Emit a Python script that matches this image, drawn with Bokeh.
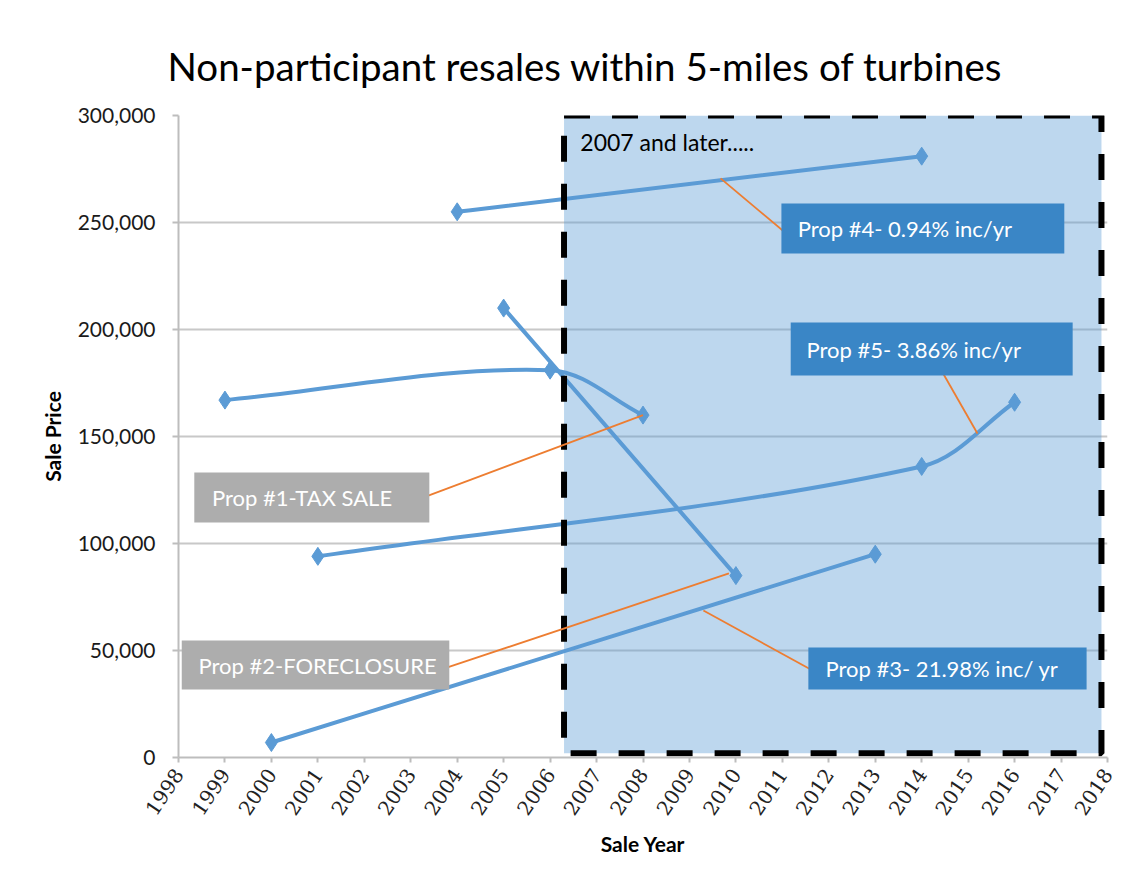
import math
from bokeh.plotting import figure
from bokeh.models import (NumeralTickFormatter, FixedTicker, BoxAnnotation, Label, Range1d)
from bokeh.embed import file_html
from bokeh.resources import INLINE

# ---------------- data ----------------
TITLE = "Non-participant resales within 5-miles of turbines"
X_LABEL = "Sale Year"
Y_LABEL = "Sale Price"
YEARS = list(range(1998, 2019))
Y_TICKS = [0, 50000, 100000, 150000, 200000, 250000, 300000]

prop1_year = [1999, 2006, 2008]
prop1_price = [167000, 181000, 160000]
prop2_year = [2005, 2010]
prop2_price = [210000, 85000]
prop3_year = [2000, 2013]
prop3_price = [7000, 95000]
prop4_year = [2004, 2014]
prop4_price = [255000, 281000]
prop5_year = [2001, 2014, 2016]
prop5_price = [94000, 136000, 166000]

SERIES = [(prop1_year, prop1_price), (prop2_year, prop2_price), (prop3_year, prop3_price),
          (prop4_year, prop4_price), (prop5_year, prop5_price)]

LABEL1 = "Prop #1-TAX SALE"
LABEL2 = "Prop #2-FORECLOSURE"
LABEL3 = "Prop #3- 21.98% inc/ yr"
LABEL4 = "Prop #4- 0.94% inc/yr"
LABEL5 = "Prop #5- 3.86% inc/yr"
PERIOD_NOTE = "2007 and later....."

# shaded "2007 and later" region (data units)
SHADE_X0, SHADE_X1 = 2006.3, 2017.87
SHADE_Y0, SHADE_Y1 = 2000, 300000

# ---------------- style ----------------
LINE_BLUE = "#5B9BD5"
BOX_BLUE = "#3A86C6"
BOX_GREY = "#ADADAD"
LEADER = "#ED7D31"
FONT = "Lato"
X_MIN, X_MAX, Y_MIN, Y_MAX = 1998, 2018, 0, 300000
FRAME_W, FRAME_H = 929, 642   # px, used only to shape the smoothing like the screen


def smooth(xs, ys):
    """Excel-like smoothed line: cubic Bezier pieces through the points,
    tangents along the neighbouring chord, handle length = segment length / 3."""
    sx = FRAME_W / (X_MAX - X_MIN)
    sy = FRAME_H / (Y_MAX - Y_MIN)
    pts = [(x * sx, y * sy) for x, y in zip(xs, ys)]
    n = len(pts)

    def unit(a, b):
        dx, dy = b[0] - a[0], b[1] - a[1]
        L = math.hypot(dx, dy)
        return (dx / L, dy / L)

    tangents = []
    for i in range(n):
        a = pts[max(i - 1, 0)]
        b = pts[min(i + 1, n - 1)]
        tangents.append(unit(a, b))
    d = dict(x0=[], y0=[], x1=[], y1=[], cx0=[], cy0=[], cx1=[], cy1=[])
    for i in range(n - 1):
        a, b = pts[i], pts[i + 1]
        L = math.hypot(b[0] - a[0], b[1] - a[1]) / 3.0
        ta, tb = tangents[i], tangents[i + 1]
        d["x0"].append(xs[i]); d["y0"].append(ys[i])
        d["x1"].append(xs[i + 1]); d["y1"].append(ys[i + 1])
        d["cx0"].append((a[0] + ta[0] * L) / sx)
        d["cy0"].append((a[1] + ta[1] * L) / sy)
        d["cx1"].append((b[0] - tb[0] * L) / sx)
        d["cy1"].append((b[1] - tb[1] * L) / sy)
    return d


p = figure(width=1130, height=870, x_range=Range1d(X_MIN, X_MAX), y_range=Range1d(Y_MIN, Y_MAX),
           output_backend="svg", toolbar_location=None,
           min_border_left=178, min_border_right=23, min_border_top=115, min_border_bottom=113)
p.outline_line_color = None
p.background_fill_color = "white"
p.border_fill_color = "white"

# title
p.title.text = TITLE
p.title.text_font = FONT
p.title.text_font_size = "38.5px"
p.title.text_font_style = "normal"
p.title.text_color = "black"
p.title.align = "left"
p.title.offset = -11
p.title.standoff = 54

# grid
p.xgrid.grid_line_color = None
p.ygrid.ticker = FixedTicker(ticks=Y_TICKS)
p.ygrid.grid_line_color = "#C8C8C8"
p.ygrid.grid_line_width = 2

# axes
p.yaxis.ticker = FixedTicker(ticks=Y_TICKS)
p.yaxis.formatter = NumeralTickFormatter(format="0,0")
p.yaxis.axis_label = Y_LABEL
p.xaxis.ticker = FixedTicker(ticks=YEARS)
p.xaxis.axis_label = X_LABEL
p.xaxis.major_label_orientation = math.radians(56)
for ax in (p.xaxis, p.yaxis):
    ax.axis_line_color = "#BDBDBD"
    ax.axis_line_width = 2
    ax.major_tick_line_color = "#BDBDBD"
    ax.major_tick_line_width = 2
    ax.major_tick_in = 0
    ax.minor_tick_line_color = None
    ax.axis_label_text_font = FONT
    ax.axis_label_text_font_style = "bold"
    ax.axis_label_text_font_size = "21px"
    ax.axis_label_text_color = "black"
p.yaxis.major_tick_out = 6
p.yaxis.major_label_text_font = FONT
p.yaxis.major_label_text_font_size = "21px"
p.yaxis.major_label_text_color = "#1A1A1A"
p.yaxis.major_label_standoff = 17
p.yaxis.axis_label_standoff = 10
p.xaxis.major_tick_out = 5
p.xaxis.major_label_text_font = "DejaVu Serif"
p.xaxis.major_label_text_font_size = "20px"
p.xaxis.major_label_text_color = "#222222"
p.xaxis.major_label_standoff = 8
p.xaxis.axis_label_standoff = 7

# shaded region fill
p.quad(left=[SHADE_X0], right=[SHADE_X1], bottom=[SHADE_Y0], top=[SHADE_Y1],
       fill_color=LINE_BLUE, fill_alpha=0.4, line_color=None)

# series
for xs, ys in SERIES:
    p.bezier(**smooth(xs, ys), line_color=LINE_BLUE, line_width=4)
    p.scatter(xs, ys, marker="diamond", size=18, fill_color=LINE_BLUE, line_color=LINE_BLUE)

# dashed border of region
p.quad(left=[SHADE_X0], right=[SHADE_X1], bottom=[SHADE_Y0], top=[SHADE_Y1],
       fill_color=None, line_color="black", line_width=6, line_dash="26 22")

# leader lines (callouts)
leaders = dict(
    x0=[2002.99, 2003.79, 2009.30, 2009.67, 2014.40],
    y0=[119200, 42100, 68700, 270600, 181800],
    x1=[prop1_year[-1], 2009.85, 2011.73, 2011.11, 2015.20],
    y1=[prop1_price[-1], 86000, 39700, 244400, 151400],
)
p.segment(x0=leaders["x0"], y0=leaders["y0"], x1=leaders["x1"], y1=leaders["y1"],
          line_color=LEADER, line_width=1.8)

# callout boxes and texts
boxes = [
    (1998.34, 2003.40, 109800, 133200, BOX_GREY, LABEL1, 1998.72, 121500),
    (1998.07, 2003.83, 31800, 54700, BOX_GREY, LABEL2, 1998.43, 43200),
    (2011.56, 2017.55, 31800, 51400, BOX_BLUE, LABEL3, 2011.93, 41600),
    (2010.98, 2017.07, 235500, 258900, BOX_BLUE, LABEL4, 2011.33, 247200),
    (2011.18, 2017.25, 178500, 203300, BOX_BLUE, LABEL5, 2011.52, 190700),
]
for l, r, b, t, c, txt, tx, ty in boxes:
    p.add_layout(BoxAnnotation(left=l, right=r, bottom=b, top=t, fill_color=c, fill_alpha=1.0,
                               line_color=None, level="annotation"))
for l, r, b, t, c, txt, tx, ty in boxes:
    p.add_layout(Label(x=tx, y=ty, text=txt, text_color="white", text_font=FONT,
                       text_font_size="22px", text_baseline="middle", text_align="left"))

p.add_layout(Label(x=2006.65, y=287500, text=PERIOD_NOTE, text_color="black", text_font=FONT,
                   text_font_size="23px", text_baseline="middle", text_align="left"))

open("out.html", "w").write(file_html(p, INLINE))
